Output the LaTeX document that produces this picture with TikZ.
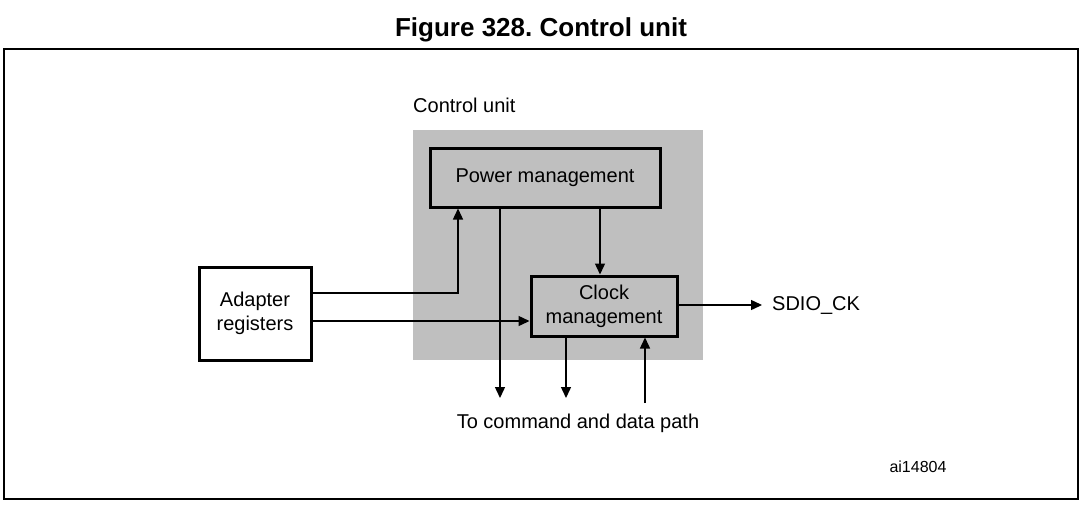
\documentclass[tikz,border=0pt]{standalone}
\usepackage{fontspec}
\setmainfont{Liberation Sans}
\usetikzlibrary{arrows.meta}
\definecolor{unitgray}{HTML}{BFBFBF}
\frenchspacing
\begin{document}
\begin{tikzpicture}[x=1pt,y=-1pt,
  blk/.style={draw,line width=3pt,inner sep=0pt},
  conn/.style={line width=1.4pt,-{Triangle[length=11pt,width=10pt]}},
  lbl/.style={font=\fontsize{20}{24}\selectfont,inner sep=0pt,align=center}]
\useasboundingbox (0,0) rectangle (1091,509);
\node[font=\fontsize{26}{30}\selectfont\bfseries,inner sep=0pt] (title) at (541,30) {Figure 328. Control unit};
\draw[line width=2pt] (4,49) rectangle (1078,499);
\fill[unitgray] (413,130) rectangle (703,360);
\node[lbl,anchor=west] (culbl) at (413,105) {Control unit};
\node[blk,fill=unitgray,minimum width=230pt,minimum height=59pt,lbl] (pm) at (545,177.5) {Power management};
\node[blk,fill=unitgray,minimum width=146pt,minimum height=60pt,lbl] (cm) at (604,306) {Clock\\management};
\node[blk,fill=white,minimum width=112pt,minimum height=93pt,lbl] (ar) at (255,313.5) {Adapter\\registers};
\coordinate (o1) at (500,398);
\coordinate (o2) at (566,398);
\coordinate (i1) at (645,403);
\coordinate (sd) at (762,305);
\node[lbl,anchor=west] (sdio) at (772,305) {SDIO\_CK};
\node[lbl] (tocmd) at (578,423) {To command and data path};
\node[font=\fontsize{16}{19}\selectfont,inner sep=0pt] (ai) at (918,467) {ai14804};
\draw[conn] (ar.east |- 0,293) -| (pm.south -| 458,0);
\draw[conn] (ar.east |- 0,321) -- (cm.west |- 0,321);
\draw[conn] (pm.south -| 600,0) -- (cm.north -| 600,0);
\draw[conn] (pm.south -| o1) -- (o1);
\draw[conn] (cm.south -| o2) -- (o2);
\draw[conn] (i1) -- (cm.south -| i1);
\draw[conn] (cm.east |- sd) -- (sd);
\end{tikzpicture}
\end{document}
